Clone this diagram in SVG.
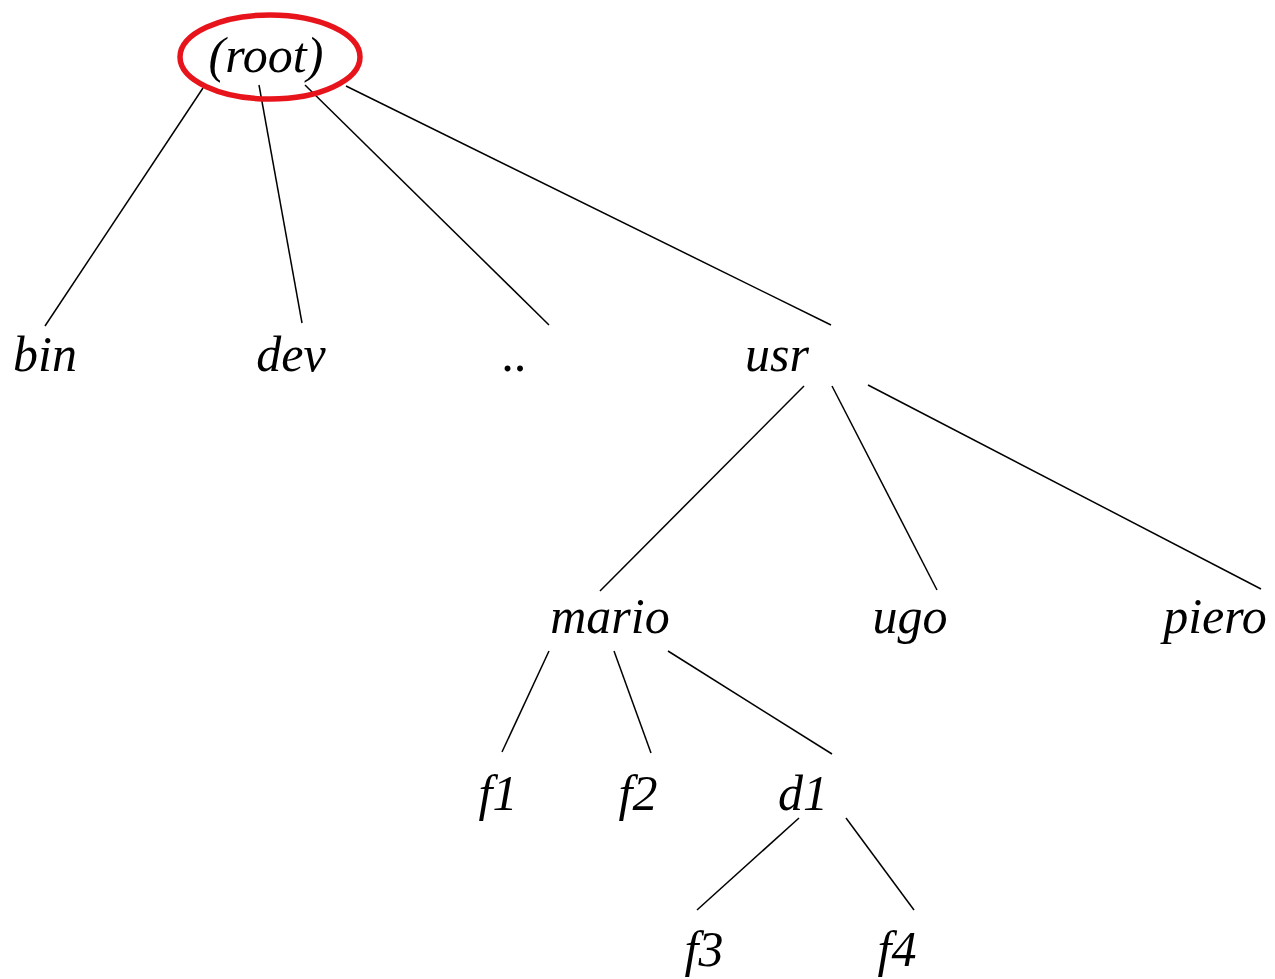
<svg xmlns="http://www.w3.org/2000/svg" width="1275" height="979" viewBox="0 0 1275 979">
<style>
text{font-family:"Liberation Serif","Times New Roman",serif;font-style:italic;font-size:50px;fill:#000;text-anchor:middle}
.e{stroke:#000;stroke-width:1.5;fill:none}
</style>
<rect width="1275" height="979" fill="#fff"/>
<g id="connectors">
<line class="e" x1="203" y1="88" x2="45" y2="326"/>
<line class="e" x1="259" y1="85" x2="302" y2="323"/>
<line class="e" x1="305" y1="85" x2="549" y2="325"/>
<line class="e" x1="346" y1="86" x2="831" y2="325"/>
<line class="e" x1="804" y1="386" x2="600" y2="591"/>
<line class="e" x1="832" y1="386" x2="937" y2="590"/>
<line class="e" x1="868" y1="385" x2="1261" y2="589"/>
<line class="e" x1="549" y1="651" x2="502" y2="752"/>
<line class="e" x1="614" y1="651" x2="651" y2="753"/>
<line class="e" x1="668" y1="651" x2="832" y2="754"/>
<line class="e" x1="799" y1="818" x2="697" y2="910"/>
<line class="e" x1="846" y1="818" x2="914" y2="910"/>
</g>
<g id="root"><ellipse cx="270" cy="57" rx="90" ry="42" fill="none" stroke="#e8141c" stroke-width="5.5"/><text x="266" y="72">(root)</text></g>
<g id="bin"><text x="45" y="371">bin</text></g>
<g id="dev"><text x="291" y="371">dev</text></g>
<g id="dots"><text x="515" y="371">..</text></g>
<g id="usr"><text x="777" y="371">usr</text></g>
<g id="mario"><text x="610" y="633">mario</text></g>
<g id="ugo"><text x="910" y="633">ugo</text></g>
<g id="piero"><text x="1215" y="633">piero</text></g>
<g id="f1"><text x="498" y="810">f1</text></g>
<g id="f2"><text x="638" y="810">f2</text></g>
<g id="d1"><text x="803" y="810">d1</text></g>
<g id="f3"><text x="704" y="966">f3</text></g>
<g id="f4"><text x="897" y="966">f4</text></g>
</svg>
